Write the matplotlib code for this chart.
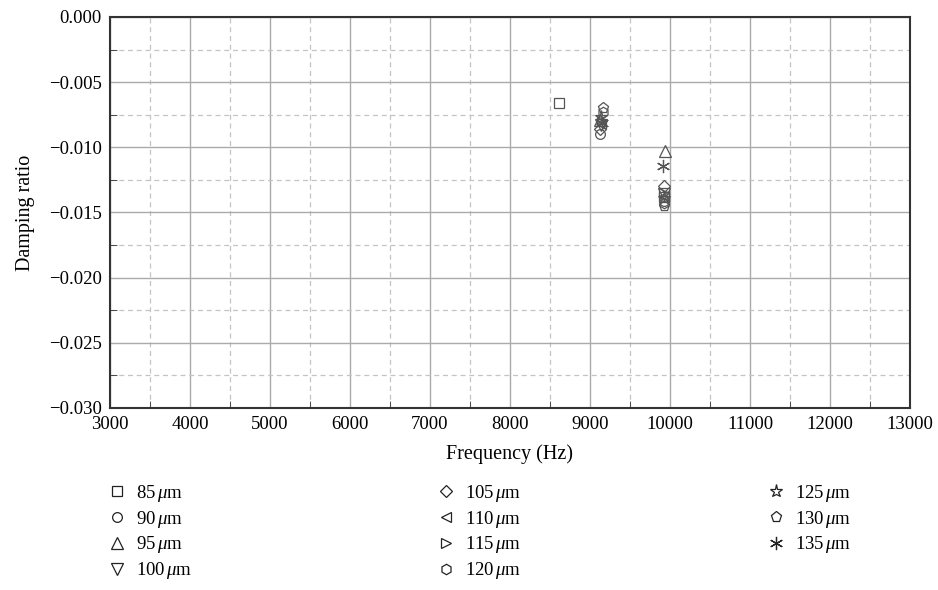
import matplotlib
matplotlib.use("Agg")
import matplotlib.pyplot as plt
from matplotlib.lines import Line2D
from matplotlib.ticker import MultipleLocator

plt.rcParams['font.family'] = ['Liberation Serif', 'DejaVu Serif']
plt.rcParams['mathtext.fontset'] = 'custom'
plt.rcParams['mathtext.it'] = 'Liberation Serif:italic'
plt.rcParams['mathtext.rm'] = 'Liberation Serif'

# clearance series (um) and the two modes picked out for each
clearances = [85, 90, 95, 100, 105, 110, 115, 120, 125, 130, 135]
freq_low = [8610, 9120, 9130, 9140, 9130, 9140, 9150, 9160, 9140, 9160, 9150]
damp_low = [-0.0066, -0.0090, -0.0079, -0.0083, -0.0086, -0.0082, -0.0080, -0.0073, -0.0077, -0.0070, -0.0081]
freq_high = [9920, 9930, 9935, 9925, 9920, 9930, 9925, 9920, 9930, 9925, 9915]
damp_high = [-0.0138, -0.0141, -0.0103, -0.0136, -0.0130, -0.0137, -0.0135, -0.0143, -0.0139, -0.0145, -0.0114]
markers = ['s', 'o', '^', 'v', 'D', '<', '>', 'h', '*', 'p', (6, 2, 0)]
msizes = [6.5, 7, 8.5, 8.5, 6.5, 7.5, 7.5, 7.5, 9.5, 8, 9.5]

fig = plt.figure(figsize=(9.38, 5.90), dpi=100)
ax = fig.add_axes([110/938, 1 - 408/590, 800/938, 391/590])

handles = []
for i, c in enumerate(clearances):
    ax.plot([freq_low[i], freq_high[i]], [damp_low[i], damp_high[i]], linestyle='none',
            marker=markers[i], markersize=msizes[i], markerfacecolor='none',
            markeredgecolor='#555555', markeredgewidth=0.9, zorder=3)
    handles.append(Line2D([], [], linestyle='none', marker=markers[i],
                          markersize=msizes[i], markerfacecolor='none',
                          markeredgecolor='#222222', markeredgewidth=0.9,
                          label=r'%d$\,\mu$m' % c))

ax.set_xlim(3000, 13000)
ax.set_ylim(-0.030, 0.000)
ax.xaxis.set_major_locator(MultipleLocator(1000))
ax.xaxis.set_minor_locator(MultipleLocator(500))
ax.yaxis.set_major_locator(MultipleLocator(0.005))
ax.yaxis.set_minor_locator(MultipleLocator(0.0025))
ax.yaxis.set_major_formatter(plt.FuncFormatter(lambda v, p: ('%.3f' % v).replace('-', '\u2212') if abs(v) > 1e-9 else '0.000'))

ax.grid(True, which='major', color='#aaaaaa', linewidth=1.0, linestyle='-')
ax.grid(True, which='minor', color='#c4c4c4', linewidth=0.9, linestyle=(0, (4, 3)))
ax.set_axisbelow(True)
for s in ax.spines.values():
    s.set_color('#333333')
    s.set_linewidth(1.5)
ax.tick_params(which='both', direction='in', labelsize=13.5, color='#333333')
ax.tick_params(which='major', length=0, pad=6)
ax.tick_params(which='minor', length=5)
ax.tick_params(axis='both', which='both', top=False, right=False)

ax.set_xlabel('Frequency (Hz)', fontsize=14.5, labelpad=8)
ax.set_ylabel('Damping ratio', fontsize=14.5, labelpad=10)

# three legend columns, placed like the reference
groups = [handles[0:4], handles[4:8], handles[8:11]]
xs = [108/938, 437/938, 767/938]
for g, x in zip(groups, xs):
    fig.legend(handles=g, loc='upper left', bbox_to_anchor=(x, 1 - 483/590),
               frameon=False, fontsize=13.5, handlelength=1.0, handletextpad=0.5,
               labelspacing=0.25, borderpad=0.0, borderaxespad=0.0)

fig.savefig('out.png', dpi=100)
